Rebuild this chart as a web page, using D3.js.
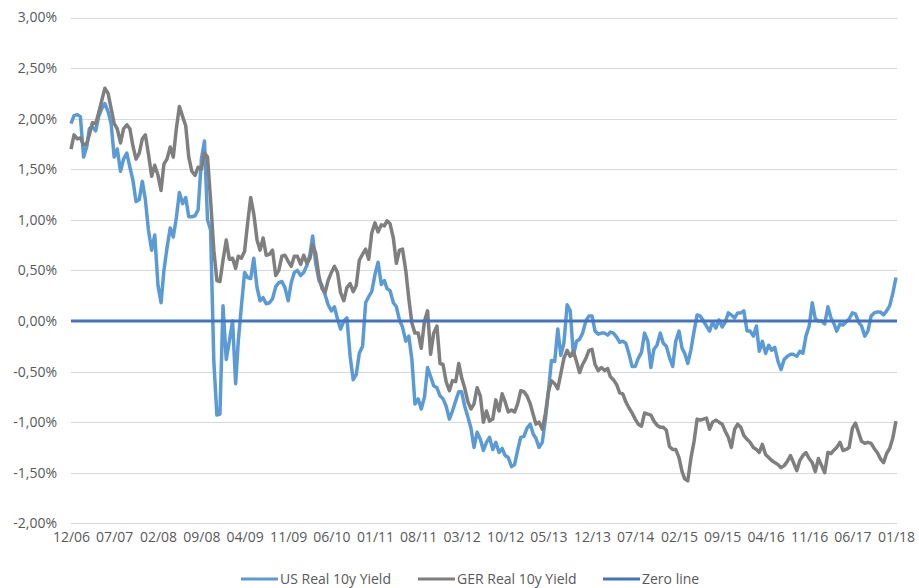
<!DOCTYPE html>
<html>
<head>
<meta charset="utf-8">
<script src="https://cdn.jsdelivr.net/npm/d3@7"></script>
<style>
  body { margin: 0; background: #fff; }
  svg text { font-family: "Open Sans", sans-serif; fill: #595959; }
</style>
</head>
<body>
<div id="chart"></div>
<script>
// real 10y yields in %, one value every half month from 12/2006 to 01/2018
var usYield = [1.95,2.03,2.04,2.02,1.62,1.72,1.90,1.92,1.88,2.02,
  2.10,2.15,2.07,1.95,1.62,1.70,1.48,1.60,1.66,1.52,
  1.39,1.18,1.20,1.38,1.20,0.90,0.70,0.85,0.35,0.18,
  0.50,0.72,0.92,0.83,1.02,1.27,1.16,1.22,1.03,1.03,
  1.04,1.10,1.60,1.78,1.00,0.90,-0.40,-0.93,-0.92,0.15,
  -0.38,-0.20,0.00,-0.62,-0.20,0.14,0.48,0.43,0.42,0.62,
  0.33,0.20,0.23,0.17,0.18,0.22,0.34,0.38,0.39,0.33,
  0.20,0.38,0.48,0.50,0.45,0.48,0.55,0.66,0.84,0.57,
  0.40,0.35,0.26,0.16,0.10,0.14,0.02,-0.08,0.00,0.03,
  -0.35,-0.58,-0.53,-0.32,-0.25,0.18,0.24,0.29,0.46,0.58,
  0.36,0.40,0.32,0.30,0.18,0.14,0.01,-0.06,-0.20,-0.15,
  -0.38,-0.82,-0.77,-0.87,-0.75,-0.46,-0.55,-0.64,-0.66,-0.74,
  -0.77,-0.84,-0.97,-0.89,-0.79,-0.70,-0.70,-0.84,-0.95,-1.06,
  -1.25,-1.10,-1.17,-1.28,-1.20,-1.15,-1.27,-1.20,-1.30,-1.26,
  -1.33,-1.35,-1.44,-1.42,-1.28,-1.15,-1.14,-1.06,-1.02,-1.12,
  -1.16,-1.25,-1.20,-0.98,-0.70,-0.39,-0.40,-0.08,-0.34,-0.22,
  0.16,0.10,-0.34,-0.20,-0.18,-0.12,0.00,0.05,0.05,-0.10,
  -0.13,-0.12,-0.12,-0.14,-0.11,-0.12,-0.16,-0.21,-0.20,-0.22,
  -0.33,-0.45,-0.45,-0.37,-0.31,-0.12,-0.20,-0.46,-0.28,-0.24,
  -0.12,-0.22,-0.25,-0.36,-0.45,-0.20,-0.10,-0.27,-0.32,-0.42,
  -0.28,-0.10,0.06,0.05,0.00,-0.05,-0.10,-0.01,-0.07,0.01,
  -0.06,-0.01,0.08,0.06,0.03,0.08,0.08,0.10,-0.10,-0.10,
  -0.15,-0.05,-0.30,-0.20,-0.32,-0.24,-0.29,-0.26,-0.40,-0.48,
  -0.38,-0.35,-0.33,-0.33,-0.35,-0.30,-0.32,-0.15,-0.05,0.18,
  0.02,0.00,0.00,-0.03,0.14,0.03,-0.02,-0.10,-0.03,-0.04,
  -0.01,0.02,0.08,0.07,-0.01,-0.05,-0.15,-0.10,0.05,0.08,
  0.09,0.09,0.06,0.10,0.15,0.27,0.43];

var gerYield = [1.70,1.84,1.80,1.81,1.74,1.75,1.84,1.96,1.95,2.06,
  2.18,2.30,2.25,2.10,1.95,1.90,1.76,1.90,1.94,1.90,
  1.73,1.60,1.66,1.80,1.84,1.65,1.43,1.54,1.44,1.29,
  1.55,1.60,1.72,1.62,1.90,2.12,2.02,1.93,1.62,1.48,
  1.44,1.52,1.50,1.66,1.62,1.20,0.70,0.40,0.39,0.60,
  0.80,0.61,0.62,0.52,0.64,0.62,0.69,0.97,1.22,1.06,
  0.80,0.70,0.82,0.65,0.66,0.70,0.45,0.50,0.64,0.65,
  0.59,0.54,0.64,0.64,0.56,0.65,0.57,0.62,0.75,0.67,
  0.44,0.32,0.28,0.40,0.48,0.54,0.48,0.28,0.20,0.33,
  0.37,0.29,0.35,0.60,0.66,0.71,0.61,0.87,0.97,0.88,
  0.95,0.94,0.99,0.96,0.82,0.57,0.70,0.71,0.50,0.22,
  -0.02,-0.12,-0.12,-0.27,0.00,0.10,-0.33,-0.12,-0.05,-0.42,
  -0.43,-0.60,-0.69,-0.59,-0.60,-0.42,-0.56,-0.66,-0.80,-0.87,
  -0.82,-0.66,-0.74,-1.00,-0.89,-0.99,-0.97,-0.78,-0.89,-0.72,
  -0.80,-0.90,-0.88,-0.90,-0.82,-0.69,-0.70,-0.74,-0.82,-0.93,
  -1.02,-1.00,-1.07,-0.92,-0.70,-0.59,-0.62,-0.67,-0.52,-0.37,
  -0.29,-0.35,-0.30,-0.40,-0.51,-0.43,-0.37,-0.29,-0.28,-0.43,
  -0.49,-0.46,-0.49,-0.47,-0.55,-0.58,-0.63,-0.71,-0.72,-0.80,
  -0.86,-0.91,-0.97,-1.02,-1.04,-0.91,-0.92,-0.93,-0.99,-1.03,
  -1.05,-1.05,-1.08,-1.24,-1.27,-1.27,-1.35,-1.49,-1.56,-1.58,
  -1.35,-1.19,-0.97,-0.98,-0.97,-0.96,-1.07,-1.00,-0.98,-1.00,
  -1.02,-1.09,-1.15,-1.25,-1.07,-1.02,-1.05,-1.13,-1.17,-1.20,
  -1.25,-1.27,-1.30,-1.22,-1.32,-1.35,-1.38,-1.40,-1.42,-1.45,
  -1.43,-1.39,-1.33,-1.40,-1.48,-1.38,-1.33,-1.30,-1.36,-1.40,
  -1.49,-1.36,-1.43,-1.50,-1.30,-1.31,-1.28,-1.25,-1.20,-1.28,
  -1.27,-1.25,-1.06,-1.01,-1.10,-1.19,-1.21,-1.20,-1.21,-1.26,
  -1.30,-1.36,-1.40,-1.31,-1.26,-1.16,-0.99];

var zeroLine = [0, 0];

var xTickLabels = ["12/06","07/07","02/08","09/08","04/09","11/09","06/10","01/11","08/11","03/12",
  "10/12","05/13","12/13","07/14","02/15","09/15","04/16","11/16","06/17","01/18"];
var yTicks = [-2, -1.5, -1, -0.5, 0, 0.5, 1, 1.5, 2, 2.5, 3];

var seriesNames = ["US Real 10y Yield", "GER Real 10y Yield", "Zero line"];
var seriesColors = ["#5b9bd5", "#7f7f7f", "#4472c4"];

var width = 919, height = 588;
var parseTick = d3.timeParse("%m/%y");
var firstDate = parseTick(xTickLabels[0]);
var lastDate = parseTick(xTickLabels[xTickLabels.length - 1]);

// half month steps: 1st and 16th of each month
function pointDate(i) {
  var d = d3.timeMonth.offset(firstDate, Math.floor(i / 2));
  if (i % 2 == 1) d = d3.timeDay.offset(d, 15);
  return d;
}

var x = d3.scaleTime().domain([firstDate, lastDate]).range([71, 896]);
var y = d3.scaleLinear().domain([-2, 3]).range([523.3, 17.5]);

var svg = d3.select("#chart").append("svg")
  .attr("width", width)
  .attr("height", height);

// gridlines
svg.append("g")
  .selectAll("line")
  .data(yTicks)
  .enter().append("line")
  .attr("x1", 71)
  .attr("x2", 897)
  .attr("y1", function(d) { return Math.round(y(d)) + 0.5; })
  .attr("y2", function(d) { return Math.round(y(d)) + 0.5; })
  .attr("stroke", "#d9d9d9")
  .attr("stroke-width", 1);

var fmt = function(d) { return d3.format(".2f")(d).replace(".", ",").replace("−", "-") + "%"; };

var yAxis = svg.append("g")
  .attr("transform", "translate(57,0)")
  .call(d3.axisLeft(y).tickValues(yTicks).tickSize(0).tickPadding(0).tickFormat(fmt));
yAxis.select(".domain").remove();
yAxis.selectAll("text")
  .attr("font-size", "14px")
  .attr("font-family", "Open Sans")
  .attr("fill", "#595959");

var xAxis = svg.append("g")
  .attr("transform", "translate(0,532)")
  .call(d3.axisBottom(x)
    .tickValues(xTickLabels.map(parseTick))
    .tickSize(0)
    .tickPadding(0)
    .tickFormat(d3.timeFormat("%m/%y")));
xAxis.select(".domain").remove();
xAxis.selectAll("text")
  .attr("font-size", "14px")
  .attr("font-family", "Open Sans")
  .attr("fill", "#595959");

var line = d3.line()
  .x(function(d, i) { return x(pointDate(i)); })
  .y(function(d) { return y(d); });

svg.append("path")
  .datum(usYield)
  .attr("d", line)
  .attr("fill", "none")
  .attr("stroke", seriesColors[0])
  .attr("stroke-width", 3.5)
  .attr("stroke-linejoin", "round");

svg.append("path")
  .datum(gerYield)
  .attr("d", line)
  .attr("fill", "none")
  .attr("stroke", seriesColors[1])
  .attr("stroke-width", 3.5)
  .attr("stroke-linejoin", "round");

svg.append("path")
  .datum(zeroLine)
  .attr("d", d3.line()
    .x(function(d, i) { return i == 0 ? x(firstDate) : x(lastDate) + 1; })
    .y(function(d) { return y(d); }))
  .attr("fill", "none")
  .attr("stroke", seriesColors[2])
  .attr("stroke-width", 3);

// legend
var legendX = [241, 418, 603];
var legend = svg.append("g");
var item = legend.selectAll("g")
  .data(seriesNames)
  .enter().append("g")
  .attr("transform", function(d, i) { return "translate(" + legendX[i] + ",579)"; });
item.append("line")
  .attr("x1", 0)
  .attr("x2", 37)
  .attr("stroke", function(d, i) { return seriesColors[i]; })
  .attr("stroke-width", 3);
item.append("text")
  .attr("x", 39)
  .attr("y", 5)
  .attr("font-size", "14px")
  .text(function(d) { return d; });
</script>
</body>
</html>
